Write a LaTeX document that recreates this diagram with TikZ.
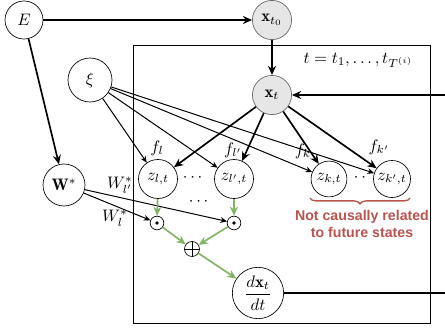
\documentclass[tikz,border=0pt]{standalone}
\usepackage{amsmath}
\usepackage{fontspec}
\newfontfamily\notefont{Liberation Sans}
\usetikzlibrary{arrows.meta,decorations.pathreplacing}
\definecolor{obsgray}{HTML}{E6E6E6}
\definecolor{obsedge}{HTML}{666666}
\definecolor{flowgreen}{HTML}{82B366}
\definecolor{notered}{HTML}{B85450}
\begin{document}
\begin{tikzpicture}[x=0.6pt,y=-0.6pt]
            \tikzset{
                var/.style={circle,draw,fill=white,inner sep=0pt,minimum size=#1},
                obs/.style={var=#1,fill=obsgray,draw=obsedge},
                op/.style={circle,draw,fill=white,inner sep=0pt,minimum size=8.2pt},
                bigarrow/.style={line width=1pt,-{Stealth[length=5.5pt,width=4.8pt]}},
                smallarrow/.style={line width=0.6pt,-{Stealth[length=4pt,width=3.5pt]}},
                greenarrow/.style={flowgreen,line width=1pt,-{Stealth[length=5.5pt,width=4.8pt]}},}
            \useasboundingbox (0,0) rectangle (445,330);
            % plate
            \draw (133,45) rectangle (430,323);
            \node[anchor=east] (plate) at (419,60) {$t=t_1,\ldots,t_{T^{(i)}}$};
            \node (dotsl) at (194,178) {$\cdots$};
            \node (dotsk) at (360,178) {$\cdot\,\cdot$};
            \node (dotsw) at (200,202) {$\cdots$};
            % variables
            \node[var=22.8pt] (E) at (24,20) {$E$};
            \node[obs=23.5pt] (xt0) at (272,20) {$\mathbf{x}_{t_0}$};
            \node[var=26.4pt] (xi) at (90,80) {$\xi$};
            \node[obs=23.5pt] (xt) at (272,95) {$\mathbf{x}_t$};
            \node[var=25.2pt] (Wstar) at (64,185) {$\mathbf{W}^*$};
            \node[var=23.4pt] (zl) at (158,179) {$z_{l,t}$};
            \node[var=23.4pt] (zlp) at (234,179) {$z_{l',t}$};
            \node[var=21.5pt] (zk) at (329,179) {$z_{k,t}$};
            \node[var=22.2pt] (zkp) at (392,179) {$z_{k',t}$};
            \node[op] (pl) at (157,223) {};
            \node[op] (plp) at (234,223) {};
            \node[op,minimum size=9pt] (sum) at (192,249) {};
            \node[var=30.8pt] (dxdt) at (258,293) {$\dfrac{d\mathbf{x}_t}{dt}$};
            \fill (pl) circle (1.1pt);
            \fill (plp) circle (1.1pt);
            \draw (sum.north) -- (sum.south) (sum.west) -- (sum.east);
            % labels
            \node (fl) at (157,148) {$f_l$};
            \node (flp) at (233,150) {$f_{l'}$};
            \node (fk) at (303,151) {$f_k$};
            \node (fkp) at (379,147) {$f_{k'}$};
            \node (wlp) at (120,185) {$W^*_{l'}$};
            \node (wl) at (115,218) {$W^*_l$};
            % edges
            \draw[bigarrow] (E) -- (xt0);
            \draw[bigarrow] (E) -- (Wstar);
            \draw[bigarrow] (xt0) -- (xt);
            \foreach \z in {zl,zlp,zk,zkp}
                \draw[bigarrow] (xt) -- (\z);
            \foreach \z in {zl,zlp,zk,zkp}
                \draw[smallarrow] (xi) -- (\z);
            \draw[smallarrow] (Wstar) -- (pl);
            \draw[smallarrow] (Wstar) -- (plp);
            \draw[greenarrow] (zl) -- (pl);
            \draw[greenarrow] (zlp) -- (plp);
            \draw[greenarrow] (pl) -- (sum);
            \draw[greenarrow] (plp) -- (sum);
            \draw[greenarrow] (sum) -- (dxdt);
            \coordinate (back) at (460,95);
            \draw[bigarrow] (dxdt) -| (back) -- (xt);
            % note
            \coordinate (bl) at (310,198);
            \coordinate (br) at (410,198);
            \draw[notered,line width=0.8pt,decorate,decoration={brace,mirror,amplitude=3.5pt}] (bl) -- (br);
            \node[text=notered,align=center,font=\notefont\bfseries\fontsize{8.5}{10}\selectfont] (note) at (362,224) {Not causally related\\to future states};
        \end{tikzpicture}
\end{document}
